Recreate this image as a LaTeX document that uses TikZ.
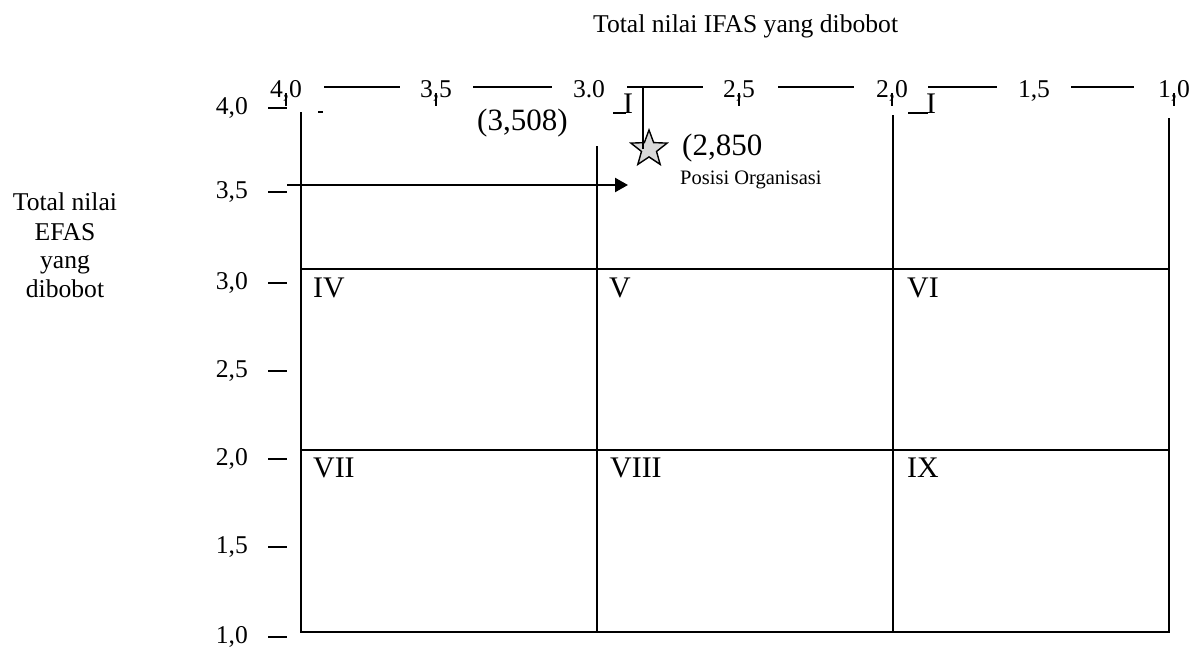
\documentclass[tikz,border=0pt]{standalone}
\usepackage{fontspec}
\setmainfont{Liberation Serif}
\usetikzlibrary{shapes.geometric,arrows.meta}

\begin{document}
\begin{tikzpicture}[x=1pt,y=-1pt,
  gridline/.style={line width=2pt},
  tickline/.style={line width=1.7pt},
  smalltick/.style={line width=1.4pt},
  axistext/.style={font=\fontsize{25.6}{29.5}\selectfont, inner sep=0pt},
  zone/.style={font=\fontsize{29.9}{34}\selectfont, inner sep=0pt, anchor=base west},
  value/.style={font=\fontsize{31}{36}\selectfont, inner sep=0pt, anchor=base west},
  caption/.style={font=\fontsize{20.5}{24}\selectfont, inner sep=0pt, anchor=base west},
  pointer/.style={line width=2.3pt},
  markstar/.style={star, star points=5, star point ratio=2.4, minimum size=38pt,
    inner sep=0pt, draw=black, line width=1.4pt, fill=black!15}]
\useasboundingbox (0,0) rectangle (1197,648);

% axis titles
\node[axistext, anchor=base west] (ifas) at (593,32) {Total nilai IFAS yang dibobot};
\node[axistext, anchor=base] (efas1) at (65,210) {Total nilai};
\node[axistext, anchor=base] (efas2) at (65,240) {EFAS};
\node[axistext, anchor=base] (efas3) at (65,268) {yang};
\node[axistext, anchor=base] (efas4) at (65,297) {dibobot};

% vertical scale (EFAS)
\node[axistext, anchor=base east] (y40) at (248,114) {4,0};
\node[axistext, anchor=base east] (y35) at (248,198) {3,5};
\node[axistext, anchor=base east] (y30) at (248,289) {3,0};
\node[axistext, anchor=base east] (y25) at (248,377) {2,5};
\node[axistext, anchor=base east] (y20) at (248,465) {2,0};
\node[axistext, anchor=base east] (y15) at (248,553) {1,5};
\node[axistext, anchor=base east] (y10) at (248,643) {1,0};
\foreach \yy in {108,192,283,371,459,547,637}
  \draw[tickline] (268,\yy) -- (287,\yy);

% horizontal scale (IFAS)
\node[axistext, anchor=base] (x40) at (286,97) {4,0};
\node[axistext, anchor=base] (x35) at (436,97) {3,5};
\node[axistext, anchor=base] (x30) at (589,97) {3.0};
\node[axistext, anchor=base] (x25) at (739,97) {2,5};
\node[axistext, anchor=base] (x20) at (892,97) {2,0};
\node[axistext, anchor=base] (x15) at (1034,97) {1,5};
\node[axistext, anchor=base] (x10) at (1174,97) {1,0};
\foreach \xa/\xb in {324/400,473/552,627/703,778/854,928/997,1071/1134}
  \draw[smalltick] (\xa,87) -- (\xb,87);
\foreach \xx in {286,436,739,892,1174}
  \draw[smalltick] (\xx,93) -- (\xx,106);

% remnants of the upper zone labels
\draw[smalltick] (318,112) -- (323,112);
\draw[smalltick] (613,113) -- (626,113);
\node[zone] (zoneII) at (623,113) {I};
\draw[smalltick] (908,113) -- (928,113);
\node[zone] (zoneIII) at (926,113) {I};

% the nine-cell grid
\draw[gridline] (301,112) -- (301,632) -- (1169,632) -- (1169,118);
\draw[gridline] (597,146) -- (597,632);
\draw[gridline] (893,115) -- (893,632);
\draw[gridline] (301,269) -- (1169,269);
\draw[gridline] (301,450) -- (1169,450);

% zone numbers
\node[zone] (zoneIV) at (313,297) {IV};
\node[zone] (zoneV) at (609,297) {V};
\node[zone] (zoneVI) at (907,297) {VI};
\node[zone] (zoneVII) at (313,477) {VII};
\node[zone] (zoneVIII) at (610,477) {VIII};
\node[zone] (zoneIX) at (907,477) {IX};

% position of the organisation
\node[value] (ifasval) at (477,130) {(3,508)};
\node[markstar] (pos) at (649,149) {};
\node[value] (efasval) at (682,155) {(2,850};
\node[caption] (poslbl) at (680,184) {Posisi Organisasi};
\coordinate (vstart) at (643,88);
\draw[pointer] (vstart) -- (vstart |- pos.center);
\coordinate (hstart) at (287,185);
\coordinate (htip) at (628,185);
\draw[pointer, -{Triangle[length=13pt,width=14pt]}] (hstart) -- (htip);
\end{tikzpicture}
\end{document}
